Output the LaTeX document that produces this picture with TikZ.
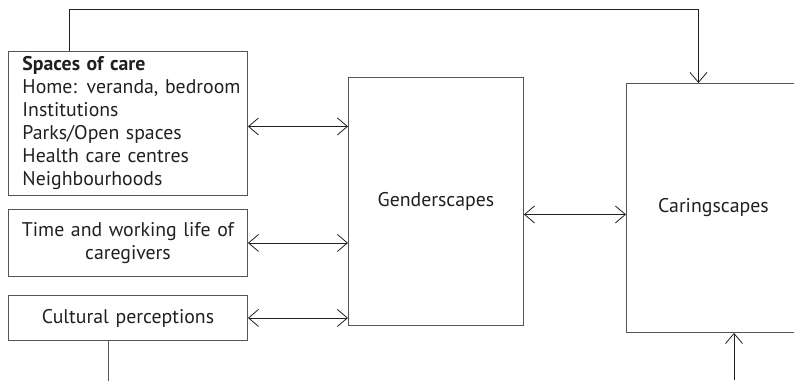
\documentclass[tikz,border=0pt]{standalone}
\usepackage{fontspec}
\setmainfont{PT Sans}
\usetikzlibrary{arrows.meta, positioning}
\definecolor{boxgray}{RGB}{85,85,85}
\definecolor{inkgray}{RGB}{35,31,32}
\tikzset{
  factorbox/.style={rectangle, draw=boxgray, line width=0.9pt, minimum width=239pt,
    text width=232pt, inner xsep=3.5pt, inner ysep=0pt, text=inkgray,
    font=\fontsize{19.8}{23}\selectfont},
  scapebox/.style={rectangle, draw=boxgray, line width=0.9pt, text=inkgray,
    font=\fontsize{19.8}{23}\selectfont},
  link/.style={line width=0.8pt, color=inkgray,
    {Straight Barb[length=10pt,width=17pt]}-{Straight Barb[length=10pt,width=17pt]}},
  feed/.style={line width=0.8pt, color=inkgray, -{Straight Barb[length=10pt,width=17pt]}},
}

\begin{document}
\begin{tikzpicture}[x=1pt, y=-1pt]
  \useasboundingbox (0,0) rectangle (794,380);

  % factor boxes on the left
  \node[factorbox, anchor=north west, minimum height=144pt, align=left,
    execute at begin node={\leftskip=10.5pt}] (spaces) at (8,51)
    {\textbf{Spaces of care}\\Home: veranda, bedroom\\Institutions\\Parks/Open spaces\\Health care centres\\Neighbourhoods};
  \node[factorbox, anchor=north west, minimum height=67pt, align=center] (time) at (8,209)
    {Time and working life of\\caregivers};
  \node[factorbox, anchor=north west, minimum height=45pt, align=center] (cultural) at (8,295)
    {Cultural perceptions};

  % scapes
  \node[scapebox, anchor=north west, minimum width=175pt, minimum height=248pt] (gender) at (348,77)
    {Genderscapes};
  \node[scapebox, anchor=north west, minimum width=174pt, minimum height=249pt] (caring) at (626,83)
    {Caringscapes};

  \draw[link] ([yshift=-3pt]spaces.east) -- ([yshift=-3pt]spaces.east -| gender.west);
  \draw[link] (time.east) -- (time.east -| gender.west);
  \draw[link] (cultural.east) -- (cultural.east -| gender.west);
  \draw[link] ([yshift=-13pt]gender.east) -- ([yshift=-13pt]gender.east -| caring.west);

  % loop over the top
  \draw[feed] ([xshift=61pt]spaces.north west) -- ++(0,-42) -| ([xshift=-15pt]caring.north);

  % open ends at the bottom
  \draw[line width=0.8pt, color=boxgray] ([xshift=-20pt]cultural.south) -- ++(0,40);
  \coordinate (caringin) at (734,380);
  \draw[feed] (caringin) -- (caringin |- caring.south);
\end{tikzpicture}
\end{document}
